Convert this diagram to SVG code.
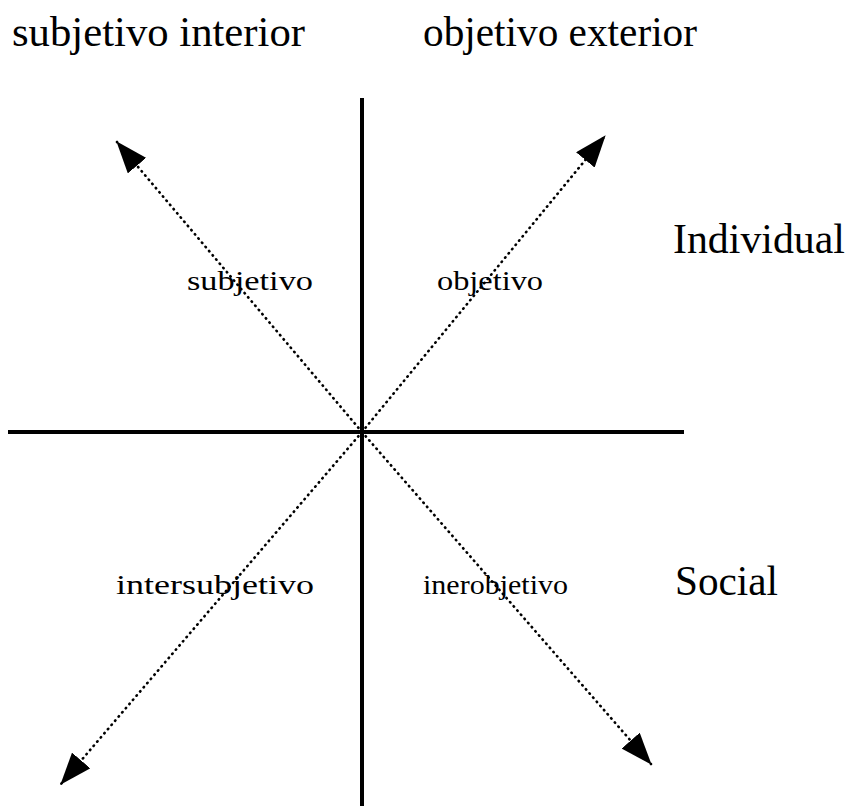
<svg xmlns="http://www.w3.org/2000/svg" width="853" height="807" viewBox="0 0 853 807">
  <style>
    .big { font-family: "Liberation Serif", "Times New Roman", serif; font-size: 43px; fill: #000; }
    .small { font-family: "Liberation Serif", "Times New Roman", serif; font-size: 28px; fill: #000; }
    .axis { stroke: #000; stroke-width: 4; fill: none; }
    .diag { stroke: #000; stroke-width: 2.6; stroke-dasharray: 0.5 5; stroke-linecap: round; fill: none; }
  </style>
  <defs>
    <marker id="head" viewBox="0 -12 32 24" refX="31" refY="0" markerWidth="32" markerHeight="24" markerUnits="userSpaceOnUse" orient="auto">
      <path d="M0,-12 L32,0 L0,12 z" fill="#000"/>
    </marker>
  </defs>
  <rect width="853" height="807" fill="#fff"/>

  <g id="connectors">
    <line class="axis" x1="362" y1="98" x2="362" y2="806"/>
    <line class="axis" x1="8" y1="432" x2="684" y2="432"/>
    <line class="diag" x1="362" y1="432" x2="117" y2="142" marker-end="url(#head)"/>
    <line class="diag" x1="362" y1="432" x2="605" y2="136" marker-end="url(#head)"/>
    <line class="diag" x1="362" y1="432" x2="61" y2="784" marker-end="url(#head)"/>
    <line class="diag" x1="362" y1="432" x2="651" y2="764" marker-end="url(#head)"/>
  </g>

  <g id="title-subjetivo-interior"><text class="big" x="12" y="46" textLength="293" lengthAdjust="spacingAndGlyphs">subjetivo interior</text></g>
  <g id="title-objetivo-exterior"><text class="big" x="423" y="46" textLength="274" lengthAdjust="spacingAndGlyphs">objetivo exterior</text></g>
  <g id="label-individual"><text class="big" x="673" y="253" textLength="172" lengthAdjust="spacingAndGlyphs">Individual</text></g>
  <g id="label-social"><text class="big" x="675" y="595" textLength="103" lengthAdjust="spacingAndGlyphs">Social</text></g>

  <g id="label-subjetivo"><text class="small" x="187" y="290" textLength="126" lengthAdjust="spacingAndGlyphs">subjetivo</text></g>
  <g id="label-objetivo"><text class="small" x="437" y="290" textLength="106" lengthAdjust="spacingAndGlyphs">objetivo</text></g>
  <g id="label-intersubjetivo"><text class="small" x="116" y="594" textLength="198" lengthAdjust="spacingAndGlyphs">intersubjetivo</text></g>
  <g id="label-inerobjetivo"><text class="small" x="423" y="594" textLength="145" lengthAdjust="spacingAndGlyphs">inerobjetivo</text></g>
</svg>
